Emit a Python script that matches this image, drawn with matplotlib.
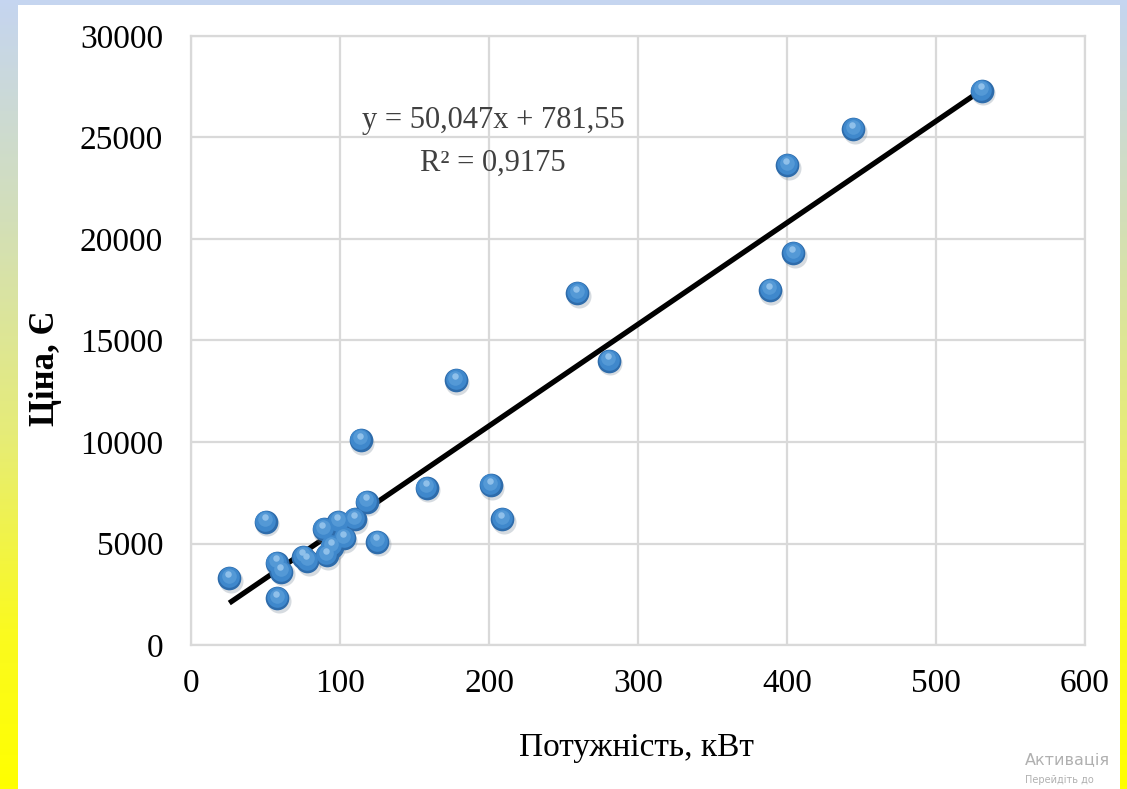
import numpy as np
import matplotlib
matplotlib.use('Agg')
import matplotlib.pyplot as plt
from matplotlib.colors import LinearSegmentedColormap
from matplotlib.patches import Rectangle
from matplotlib import transforms

# potuzhnist (kW) and tsina (EUR)
power = [25.7, 50.1, 57.9, 57.5, 60.6, 75.4, 78.0, 89.0, 91.1, 94.4, 98.9, 102.7,
         110.0, 113.9, 117.9, 125.0, 158.2, 177.9, 201.1, 209.0, 259.3, 280.5,
         388.6, 400.2, 404.2, 444.5, 530.7]
price = [3285, 6075, 2300, 4050, 3610, 4350, 4150, 5700, 4430, 4850, 6075, 5255,
         6190, 10100, 7060, 5090, 7750, 13050, 7880, 6190, 17325, 14005,
         17490, 23630, 19295, 25400, 27305]

slope = 50.047
intercept = 781.55
eq_text = "y = 50,047x + 781,55"
r2_text = "R² = 0,9175"

xticks = [0, 100, 200, 300, 400, 500, 600]
yticks = [0, 5000, 10000, 15000, 20000, 25000, 30000]

plt.rcParams['font.family'] = ['Liberation Serif', 'DejaVu Serif']

fig = plt.figure(figsize=(11.27, 7.89), dpi=100)

# background: gradient frame (blue at the top, yellow at the bottom) with white panel
bg = fig.add_axes([0, 0, 1, 1], zorder=-5)
cmap = LinearSegmentedColormap.from_list(
    'frame', [(0.0, '#c5d5f0'), (0.28, '#d3dfb8'), (0.55, '#e6ec78'),
              (0.8, '#fafa20'), (1.0, '#ffff00')])
grad = np.linspace(0, 1, 256).reshape(-1, 1)
bg.imshow(grad, aspect='auto', cmap=cmap, extent=[0, 1, 0, 1], origin='upper')
bg.add_patch(Rectangle((18 / 1127, 0), (1120 - 18) / 1127, 1 - 5 / 789,
                       facecolor='white', edgecolor='none'))
bg.set_xlim(0, 1)
bg.set_ylim(0, 1)
bg.axis('off')

ax = fig.add_axes([191 / 1127, 144 / 789, 894 / 1127, 609 / 789])
ax.set_facecolor('white')
ax.set_xlim(0, 600)
ax.set_ylim(0, 30000)
ax.set_xticks(xticks)
ax.set_yticks(yticks)
ax.grid(True, color='#d9d9d9', linewidth=1.6)
ax.set_axisbelow(True)
for s in ax.spines.values():
    s.set_color('#d9d9d9')
    s.set_linewidth(1.6)
ax.tick_params(length=0, labelsize=24)
ax.tick_params(axis='y', pad=20)
ax.tick_params(axis='x', pad=17)

# trend line
xl = np.array([min(power), max(power)])
ax.plot(xl, slope * xl + intercept, color='black', linewidth=3.8, zorder=3,
        solid_capstyle='butt')

# "3D" ball markers: shadow, body, highlight
shadow = transforms.offset_copy(ax.transData, fig=fig, x=1, y=-2, units='points')
ax.scatter(power, price, s=300, color='#7a8a9a', alpha=0.3, linewidths=0,
           transform=shadow, zorder=3.5)
ax.scatter(power, price, s=290, color='#2e6cab', linewidths=0, zorder=4)
hl0 = transforms.offset_copy(ax.transData, fig=fig, x=-0.3, y=0.8, units='points')
ax.scatter(power, price, s=220, color='#3f88cc', linewidths=0, zorder=4, transform=hl0)
hl1 = transforms.offset_copy(ax.transData, fig=fig, x=-0.5, y=1.8, units='points')
ax.scatter(power, price, s=110, color='#5499d6', linewidths=0, zorder=4, transform=hl1)
hl2 = transforms.offset_copy(ax.transData, fig=fig, x=-0.8, y=3.2, units='points')
ax.scatter(power, price, s=22, color='#8fc0ea', linewidths=0, zorder=4, transform=hl2)

ax.text(202.7, 25813, eq_text, ha='center', va='center', fontsize=22, color='#404040')
ax.text(202.7, 23744, r2_text, ha='center', va='center', fontsize=22, color='#404040')

fig.text(45 / 1127, 1 - 368 / 789, 'Ціна, Є', rotation=90, ha='center', va='center',
         fontsize=25, fontweight='bold')
fig.text(636 / 1127, 1 - 748 / 789, 'Потужність, кВт', ha='center', va='center',
         fontsize=24)

# faded windows watermark in the lower right corner
fig.text(1025 / 1127, 1 - 760 / 789, 'Активація', fontsize=11.5, color='#b0b0b0',
         family='DejaVu Sans', va='center')
fig.text(1025 / 1127, 1 - 780 / 789, 'Перейдіть до', fontsize=7, color='#b0b0b0',
         family='DejaVu Sans', va='center')

fig.savefig('out.png', dpi=100)
